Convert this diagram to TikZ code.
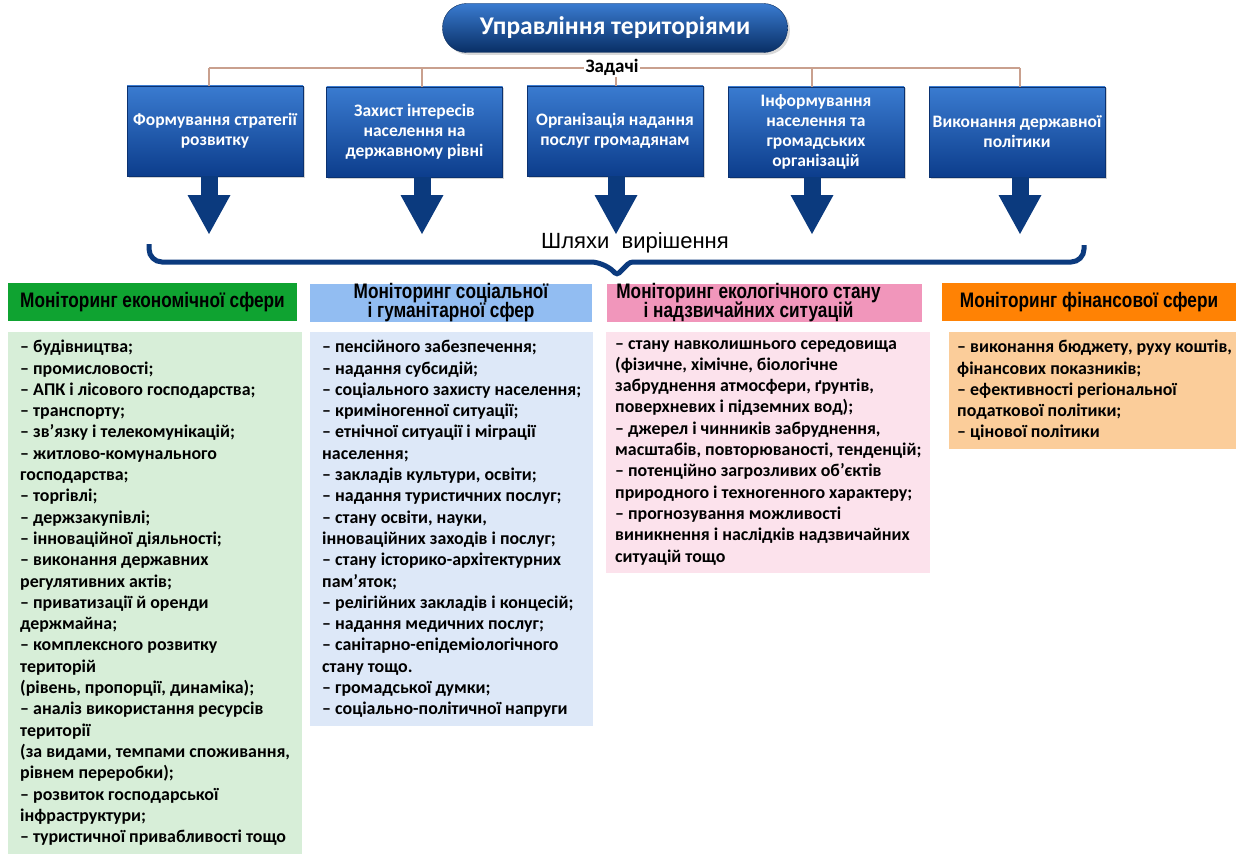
\documentclass[tikz,border=0pt]{standalone}
\usepackage{fontspec}
\setmainfont{Carlito}
\newfontfamily\narrowfont[FakeStretch=0.82]{Liberation Sans}
\newfontfamily\arialfont{Liberation Sans}
\usetikzlibrary{arrows.meta,shadows}

\definecolor{navy}{HTML}{0B3A7E}
\definecolor{taskhi}{HTML}{3A7BD0}
\definecolor{tasklo}{HTML}{0C3D8C}
\definecolor{barline}{HTML}{C9A08E}
\definecolor{ecohead}{HTML}{0FA331}
\definecolor{ecobody}{HTML}{D7EED8}
\definecolor{sochead}{HTML}{92BDF2}
\definecolor{socbody}{HTML}{DDE8F8}
\definecolor{envhead}{HTML}{F196BB}
\definecolor{envbody}{HTML}{FCE2EC}
\definecolor{finhead}{HTML}{FF8204}
\definecolor{finbody}{HTML}{FBCD9A}
\setlength{\lineskiplimit}{-20pt}
\setlength{\parindent}{0pt}

\begin{document}
\begin{tikzpicture}[x=1pt,y=-1pt]

	\tikzstyle pill=[rounded corners=24pt, minimum width=345pt, minimum height=49pt, top color=taskhi, bottom color=navy!80!black, draw=navy!70!black, text=white, font=\fontsize{25.5}{25.5}\selectfont\bfseries, drop shadow={opacity=0.3}];
	\tikzstyle task=[top color=taskhi, bottom color=tasklo, draw=tasklo!80!black, text=white, font=\fontsize{17.5}{19.8}\selectfont\bfseries, align=center, minimum width=176pt, minimum height=90pt, inner sep=0pt, drop shadow={opacity=0.35,shadow xshift=1.5pt,shadow yshift=-1.5pt}];
	\tikzstyle tick=[barline, line width=1.5pt];
	\tikzstyle down=[navy, line width=17pt, -{Triangle[length=39pt,width=43pt,line width=0pt]}];
	\tikzstyle headbox=[minimum height=38pt, inner sep=0pt, align=center, font=\narrowfont\bfseries\fontsize{21}{19}\selectfont];
	\tikzstyle listbox=[anchor=north west, align=left, inner xsep=12pt, inner ysep=8pt, font=\fontsize{17.9}{21.3}\selectfont\bfseries];

	\useasboundingbox (0,0) rectangle (1236,856);

	% title
	\node[pill] (title) at (615,28) {Управління територіями};

	% tasks
	\node[task] (f1) at (215,131) {Формування стратегії\\розвитку};
	\node[task] (f2) at (414.5,132) {Захист інтересів\\населення на\\державному рівні};
	\node[task] (f3) at (615,131) {Організація надання\\послуг громадянам};
	\node[task] (f4) at (816,132) {Інформування\\населення та\\громадських\\організацій};
	\node[task] (f5) at (1017,132) {Виконання державної\\політики};

	\coordinate (k1) at (209,68);
	\coordinate (k2) at (422,68);
	\coordinate (k3) at (616,68);
	\coordinate (k4) at (812,68);
	\coordinate (k5) at (1020,68);
	\coordinate (tips) at (0,234);

	\draw[tick] (k1) -- (k5);
	\foreach \i in {1,...,5}{
		\draw[tick] (k\i) -- (k\i |- f\i.north);
		\draw[down] (k\i |- f\i.south) -- (k\i |- tips);
	}
	\node[fill=white, inner sep=1.5pt, font=\fontsize{19}{19}\selectfont\bfseries] (tasks) at (612,67) {Задачі};

	% brace
	\draw[navy, line width=5pt, rounded corners=13pt] (149,244) -- (149,262) -- (604,262) [rounded corners=3pt] -- (617,275) -- (630,262) [rounded corners=13pt] -- (1084,262) -- (1084,245);
	\node[font=\arialfont\fontsize{22}{22}\selectfont] (ways) at (635,243) {Шляхи\ \ вирішення};

	% monitoring
	\node[headbox, fill=ecohead, minimum width=289pt] (h1) at (152.5,302) {Моніторинг економічної сфери};
	\node[headbox, fill=sochead, minimum width=282pt] (h2) at (451,303) {Моніторинг соціальної\\і гуманітарної сфер};
	\node[headbox, fill=envhead, minimum width=315pt] (h3) at (764.5,303) {Моніторинг екологічного стану\hspace*{32pt}\\і надзвичайних ситуацій\hspace*{32pt}};
	\node[headbox, fill=finhead, minimum width=294pt] (h4) at (1089,302) {Моніторинг фінансової сфери};

	\node[listbox, fill=ecobody, minimum width=288pt] (b1) at (8,332) {%
– будівництва;\\
– промисловості;\\
– АПК і лісового господарства;\\
– транспорту;\\
– зв’язку і телекомунікацій;\\
– житлово-комунального\\
господарства;\\
– торгівлі;\\
– держзакупівлі;\\
– інноваційної діяльності;\\
– виконання державних\\
регулятивних актів;\\
– приватизації й оренди\\
держмайна;\\
– комплексного розвитку\\
територій\\
(рівень, пропорції, динаміка);\\
– аналіз використання ресурсів\\
території\\
(за видами, темпами споживання,\\
рівнем переробки);\\
– розвиток господарської\\
інфраструктури;\\
– туристичної привабливості тощо};

	\node[listbox, fill=socbody, minimum width=282pt] (b2) at (310,332) {%
– пенсійного забезпечення;\\
– надання субсидій;\\
– соціального захисту населення;\\
– криміногенної ситуації;\\
– етнічної ситуації і міграції\\
населення;\\
– закладів культури, освіти;\\
– надання туристичних послуг;\\
– стану освіти, науки,\\
інноваційних заходів і послуг;\\
– стану історико-архітектурних\\
пам’яток;\\
– релігійних закладів і концесій;\\
– надання медичних послуг;\\
– санітарно-епідеміологічного\\
стану тощо.\\
– громадської думки;\\
– соціально-політичної напруги};

	\node[listbox, fill=envbody, minimum width=324pt, inner xsep=9pt] (b3) at (606,332) {%
– стану навколишнього середовища\\
(фізичне, хімічне, біологічне\\
забруднення атмосфери, ґрунтів,\\
поверхневих і підземних вод);\\
– джерел і чинників забруднення,\\
масштабів, повторюваності, тенденцій;\\
– потенційно загрозливих об’єктів\\
природного і техногенного характеру;\\
– прогнозування можливості\\
виникнення і наслідків надзвичайних\\
ситуацій тощо};

	\node[listbox, fill=finbody, minimum width=285pt, inner xsep=8pt] (b4) at (949,332) {%
– виконання бюджету, руху коштів,\\
фінансових показників;\\
– ефективності регіональної\\
податкової політики;\\
– цінової політики};

\end{tikzpicture}
\end{document}
